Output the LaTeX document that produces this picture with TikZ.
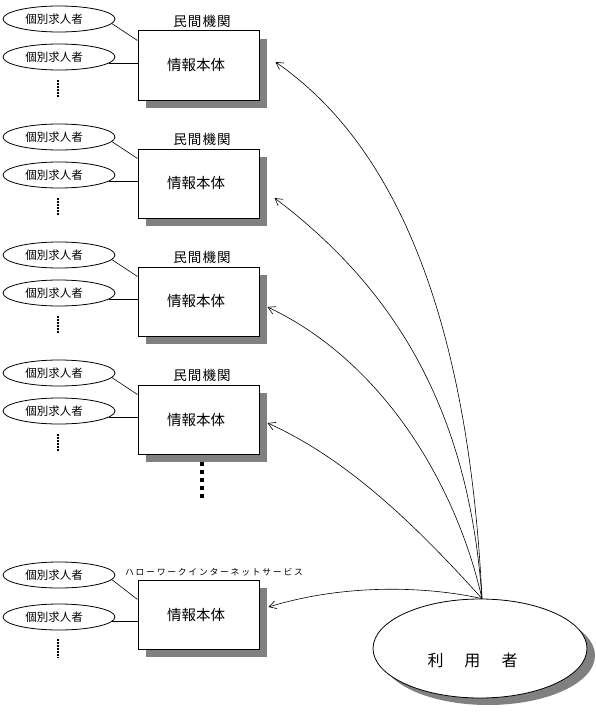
\documentclass[tikz,border=0pt]{standalone}
\usepackage{fontspec}
\newfontfamily\jp{Noto Sans CJK JP}
\newfontfamily\jpw[LetterSpace=8]{Noto Sans CJK JP}
\newfontfamily\jpk[LetterSpace=20]{Noto Sans CJK JP}
\usetikzlibrary{shapes.geometric,shadows,arrows.meta}
\begin{document}
\begin{tikzpicture}[x=1pt,y=-1pt,
  seeker/.style={ellipse,draw,line width=0.8pt,minimum width=112pt,minimum height=26pt,inner sep=0pt,
    font=\jp\fontsize{11.5}{11.5}\selectfont},
  infobox/.style={rectangle,draw,line width=1pt,fill=white,minimum width=121pt,minimum height=69pt,inner sep=0pt,
    font=\jp\fontsize{14.5}{14.5}\selectfont,
    drop shadow={shadow xshift=8pt,shadow yshift=-8pt,fill=black!50,opacity=1}},
  orglabel/.style={inner sep=0pt,font=\jpw\fontsize{13.5}{13.5}\selectfont},
  hwlabel/.style={inner sep=0pt,font=\jpk\fontsize{8.8}{8.8}\selectfont},
  userell/.style={ellipse,draw,line width=0.8pt,fill=white,minimum width=214pt,minimum height=99pt,inner sep=0pt,
    drop shadow={shadow xshift=8pt,shadow yshift=-7pt,fill=black!50,opacity=1}},
  userlabel/.style={inner sep=0pt,font=\jp\fontsize{16}{16}\selectfont},
  link/.style={line width=0.6pt},
  vdots/.style={line width=1.6pt,dash pattern=on 1.6pt off 1.4pt},
  bigdots/.style={line width=4pt,dash pattern=on 4pt off 4pt},
  usearrow/.style={line width=0.6pt,-{Straight Barb[length=7pt,width=8pt,line width=0.6pt]}}
]
\useasboundingbox (0,0) rectangle (596,717);

% four private-agency blocks
\foreach \k/\yc in {1/65.5,2/183.5,3/301.5,4/419.5}{
  \node[infobox] (b\k) at (198.5,\yc) {\hspace*{-5pt}情報本体};
  \node[orglabel] (o\k) at (202,\yc-44) {民間機関};
  \node[seeker] (e\k a) at (59,\yc-46.5) {\hspace*{-10pt}個別求人者};
  \node[seeker] (e\k b) at (59,\yc-8.5) {\hspace*{-10pt}個別求人者};
  \draw[link] (e\k a.-5) -- ([yshift=-10pt]b\k.north west);
  \draw[link] (e\k b.-7) -- (b\k.west |- e\k b.-7);
  \draw[vdots] (58,\yc+14.5) -- (58,\yc+32);
}

% Hello Work block
\node[infobox] (b5) at (198.5,614.5) {\hspace*{-5pt}情報本体};
\node[hwlabel] (o5) at (214,572) {ハローワークインターネットサービス};
\node[seeker] (e5a) at (59,575) {\hspace*{-10pt}個別求人者};
\node[seeker] (e5b) at (59,617) {\hspace*{-10pt}個別求人者};
\draw[link] (e5a.-5) -- ([yshift=-20pt]b5.north west);
\draw[link] (e5b.-5) -- (b5.west |- e5b.-5);
\draw[vdots] (58,639) -- (58,657.5);

% big dots
\draw[bigdots] (202,462) -- (202,500);

% user
\node[userell] (u) at (480,648.5) {};
\node[userlabel] (ul) at (472.5,660) {利\hspace{21pt}用\hspace{21pt}者};
\coordinate (s) at ([xshift=2pt]u.north);

\draw[usearrow] (s) .. controls (470,350) and (410,155) .. ([xshift=16pt,yshift=3.5pt]b1.east);
\draw[usearrow] (s) .. controls (470,430) and (410,300) .. ([xshift=15pt,yshift=-14.5pt]b2.east);
\draw[usearrow] (s) .. controls (455,480) and (380,360) .. ([xshift=8pt,yshift=-5.5pt]b3.east);
\draw[usearrow] (s) .. controls (420,530) and (350,460) .. ([xshift=8pt,yshift=-3.5pt]b4.east);
\draw[usearrow] (s) .. controls (420,585) and (340,585) .. ([xshift=9pt,yshift=7.5pt]b5.east);
\end{tikzpicture}
\end{document}
